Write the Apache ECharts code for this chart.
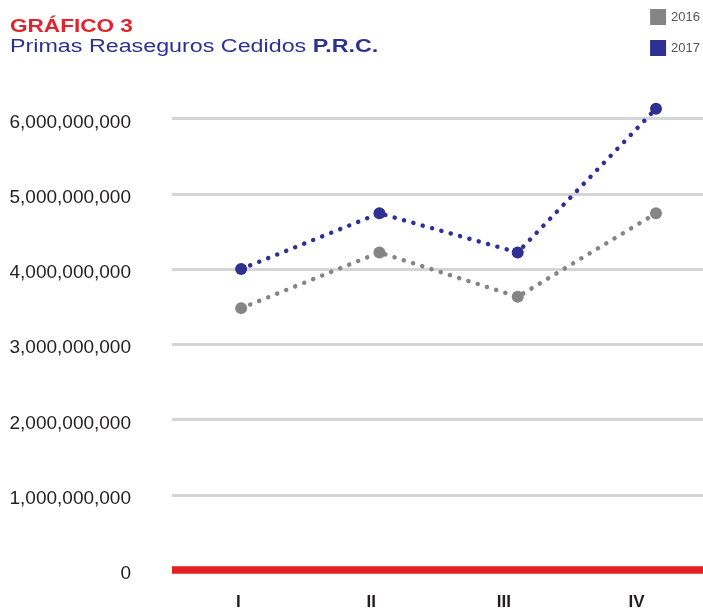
<!DOCTYPE html>
<html>
<head>
<meta charset="utf-8">
<script src="https://cdn.jsdelivr.net/npm/echarts@6/dist/echarts.min.js"></script>
<style>
  html, body { margin: 0; padding: 0; background: #fff; }
  #chart { width: 703px; height: 611px; }
</style>
</head>
<body>
<div id="chart"></div>
<script>
// datos
var quarters = ['I', 'II', 'III', 'IV'];
var seriesNames = ['2016', '2017'];
var values2016 = [3480000000, 4220000000, 3630000000, 4740000000];
var values2017 = [4000000000, 4740000000, 4220000000, 6130000000];

var FONT = '"Liberation Sans", Arial, sans-serif';

function toPoints(vals) {
    return vals.map(function (v, i) { return [i + 1, v]; });
}

function lineSeries(name, vals, color) {
    return {
        name: name,
        type: 'line',
        xAxisIndex: 0,
        data: toPoints(vals),
        clip: false,
        symbol: 'circle',
        symbolSize: 12,
        itemStyle: { color: color },
        lineStyle: { color: color, width: 4.5, type: [0.1, 9.6], cap: 'round' },
        z: 5
    };
}

var myChart = echarts.init(document.getElementById('chart'));
myChart.setOption({
    animation: false,
    backgroundColor: '#fff',
    grid: { left: 172, right: 0, top: 118.5, bottom: 41 },
    legend: {
        orient: 'vertical',
        right: 3,
        top: 9,
        padding: 0,
        icon: 'rect',
        itemWidth: 16,
        itemHeight: 16,
        itemGap: 15,
        textStyle: { fontFamily: FONT, fontSize: 13, color: '#555' },
        data: seriesNames
    },
    xAxis: [
        {
            // eje numerico oculto para ubicar los puntos
            type: 'value',
            min: 0.5,
            max: 4.34,
            show: false
        },
        {
            type: 'category',
            position: 'bottom',
            data: quarters,
            boundaryGap: true,
            axisLine: { show: true, lineStyle: { color: '#e31e24', width: 7.5, cap: 'butt' } },
            axisTick: { show: false },
            axisLabel: {
                margin: 24,
                fontFamily: FONT,
                fontSize: 17,
                fontWeight: 'bold',
                color: '#231f20'
            },
            z: 10
        }
    ],
    yAxis: {
        type: 'value',
        min: 0,
        max: 6000000000,
        interval: 1000000000,
        axisLine: { show: false },
        axisTick: { show: false },
        axisLabel: {
            margin: 41,
            verticalAlign: 'top',
            lineHeight: 8,
            fontFamily: FONT,
            fontSize: 19,
            color: '#231f20',
            formatter: function (v) { return v.toLocaleString('en-US'); }
        },
        splitLine: { lineStyle: { color: '#d5d5d7', width: 3 } }
    },
    series: [
        lineSeries(seriesNames[0], values2016, '#858585'),
        lineSeries(seriesNames[1], values2017, '#2e3192')
    ],
    graphic: {
        elements: [
            {
                type: 'text',
                x: 10,
                y: 27,
                scaleX: 1.29,
                style: {
                    text: 'GRÁFICO 3',
                    font: 'bold 17.5px ' + FONT,
                    fill: '#e3232c',
                    verticalAlign: 'middle'
                }
            },
            {
                type: 'text',
                x: 10,
                y: 47,
                scaleX: 1.33,
                style: {
                    text: 'Primas Reaseguros Cedidos {b|P.R.C.}',
                    font: '17.5px ' + FONT,
                    fill: '#2e3192',
                    verticalAlign: 'middle',
                    rich: {
                        b: { fontFamily: FONT, fontSize: 17.5, fontWeight: 'bold', fill: '#2e3192' }
                    }
                }
            }
        ]
    }
});
</script>
</body>
</html>
